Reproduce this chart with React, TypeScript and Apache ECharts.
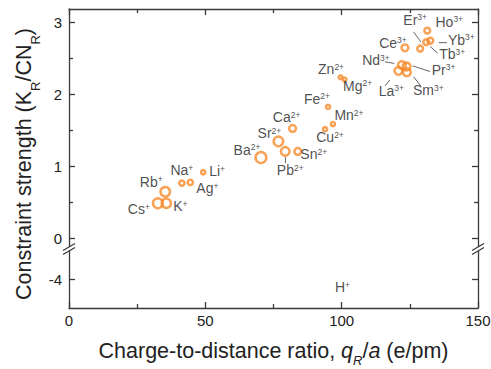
import React, { useEffect, useRef } from 'react';
import * as echarts from 'echarts';

const FONT = '"Liberation Sans", Arial, Helvetica, sans-serif';
const ORANGE = '#f7892b';
const INK = '#222222';
const AXIS = '#3a3a3a';

// Ions, their charge, the charge-to-distance ratio q_R/a (e/pm) and constraint strength
const ions = ['Cs', 'Rb', 'K', 'Na', 'Ag', 'Li', 'Ba', 'Sr', 'Pb', 'Ca', 'Sn', 'Cu', 'Mn', 'Fe', 'Zn', 'Mg', 'La', 'Nd', 'Pr', 'Sm', 'Ce', 'Er', 'Tb', 'Yb', 'Ho'];
const charges = ['+', '+', '+', '+', '+', '+', '2+', '2+', '2+', '2+', '2+', '2+', '2+', '2+', '2+', '2+', '3+', '3+', '3+', '3+', '3+', '3+', '3+', '3+', '3+'];
const chargeRatio = [32.6, 35.3, 35.7, 41.4, 44.5, 49.2, 70.4, 76.8, 79.3, 82.0, 83.9, 93.9, 96.8, 95.0, 99.6, 101.1, 120.8, 122.1, 123.8, 123.9, 123.2, 128.8, 131.0, 132.5, 131.4];
const strength = [0.49, 0.65, 0.49, 0.77, 0.78, 0.92, 1.125, 1.35, 1.21, 1.53, 1.21, 1.52, 1.59, 1.83, 2.24, 2.21, 2.33, 2.41, 2.39, 2.31, 2.65, 2.64, 2.73, 2.75, 2.89];
const markerSize = [9.8, 9.5, 9.3, 5.3, 5.3, 4.3, 10.8, 9.5, 8.6, 6.8, 6.8, 4.2, 4.2, 4.2, 3.8, 3.8, 7.8, 7.8, 7.8, 7.8, 6.8, 5.8, 5.8, 5.8, 5.8];

// H+ (drawn on the lower, broken part of the axis)
const hydrogenIon = ['H'];
const hydrogenCharge = ['+'];
const hydrogenRatio = [100.3];
const hydrogenStrength = [-4.14];

// label placement (offset from the marker, px) and leader lines (start/end offsets from the marker, px)
const labelDx = [-19, -14, 14, 0, 17, 14, -14, -9, 5, -6, 16, 5, 16, -11, -9.5, 13, -7, -26, 37, 21.5, -12, -5, 26, 31, 22];
const labelDy = [6, -10, 3, -13, 6, -1, -8, -8, 19, -11, 3, 8, -9, -8, -8, 6, 20, -5, 3, 18, -5, -29, 12, -1, -9];
const leaderLine: (number[] | null)[] = [
  null, null, null, null, null, null, null, null,
  [0.2, 5.7, 0.2, 11.7], // Pb
  null, null, null, null, null, null, null,
  [-8.4, 9, -13.4, 15], // La
  [-7.7, -1.7, -17, -3.3], // Nd
  [6, -0.7, 23.6, 5], // Pr
  [6.7, 4.4, 14, 13.7], // Sm
  null,
  [0.7, -6.6, -6.6, -16.6], // Er
  [4, 4.4, 11.4, 11], // Tb
  [8.4, 2, 16.7, 2], // Yb
  null,
];

// axis ticks
const xTickLabels = [0, 50, 100, 150];
const xMinorTicks = [25, 75, 125];
const yUpperTickLabels = [0, 1, 2, 3];
const yUpperMinorTicks = [0.5, 1.5, 2.5];
const yLowerTickLabels = [-4];

const ionRich = {
  n: { fontSize: 14, fontFamily: FONT, color: INK, lineHeight: 14 },
  s: { fontSize: 8.5, fontFamily: FONT, color: INK, lineHeight: 9, verticalAlign: 'top' },
};

export default function App() {
  const ref = useRef<HTMLDivElement>(null);

  useEffect(() => {
    document.body.style.margin = '0';
    if (!ref.current) return;
    const chart = echarts.init(ref.current, null, { renderer: 'svg' });

    const axisLineStyle = { color: AXIS, width: 1.3 };
    const hiddenLabel = { show: false };
    const titleSize = 21.5;

    const xAxis: any[] = [
      {
        gridIndex: 1, type: 'value', position: 'bottom', min: 0, max: 150, interval: 25,
        axisLine: { show: true, onZero: false, lineStyle: axisLineStyle },
        axisTick: { show: true, inside: true, length: 6, customValues: xTickLabels, lineStyle: axisLineStyle },
        axisLabel: { show: true, customValues: xTickLabels, fontSize: 15, fontFamily: FONT, color: INK, margin: 5 },
        splitLine: { show: false },
        name: '{a|Charge-to-distance ratio, }{i|q}{si|R}{a|/}{i|a}{a| (e/pm)}',
        nameLocation: 'middle',
        nameGap: 32,
        nameTextStyle: {
          rich: {
            a: { fontSize: titleSize, fontFamily: FONT, color: INK, verticalAlign: 'top' },
            i: { fontSize: titleSize, fontFamily: FONT, color: INK, fontStyle: 'italic', verticalAlign: 'top' },
            si: { fontSize: 13, fontFamily: FONT, color: INK, fontStyle: 'italic', lineHeight: 27, verticalAlign: 'bottom' },
          },
        },
      },
      {
        gridIndex: 1, type: 'value', position: 'bottom', min: 0, max: 150, interval: 25,
        axisLine: { show: false, onZero: false },
        axisTick: { show: true, inside: true, length: 4, customValues: xMinorTicks, lineStyle: axisLineStyle },
        axisLabel: hiddenLabel, splitLine: { show: false },
      },
      {
        gridIndex: 0, type: 'value', position: 'top', min: 0, max: 150, interval: 25,
        axisLine: { show: true, onZero: false, lineStyle: axisLineStyle },
        axisTick: { show: true, inside: true, length: 6, customValues: xTickLabels, lineStyle: axisLineStyle },
        axisLabel: hiddenLabel, splitLine: { show: false },
      },
      {
        gridIndex: 0, type: 'value', position: 'top', min: 0, max: 150, interval: 25,
        axisLine: { show: false, onZero: false },
        axisTick: { show: true, inside: true, length: 4, customValues: xMinorTicks, lineStyle: axisLineStyle },
        axisLabel: hiddenLabel, splitLine: { show: false },
      },
    ];

    const upperY = (position: string, major: boolean, labels: boolean) => ({
      gridIndex: 0, type: 'value', position, min: -0.16, max: 3.19,
      axisLine: { show: major, onZero: false, lineStyle: axisLineStyle },
      axisTick: { show: true, inside: true, length: major ? 6 : 4, customValues: major ? yUpperTickLabels : yUpperMinorTicks, lineStyle: axisLineStyle },
      axisLabel: labels
        ? { show: true, customValues: yUpperTickLabels, fontSize: 15, fontFamily: FONT, color: INK, margin: 7 }
        : hiddenLabel,
      splitLine: { show: false },
    });
    const lowerY = (position: string, labels: boolean) => ({
      gridIndex: 1, type: 'value', position, min: -4.5, max: -3.5,
      axisLine: { show: true, onZero: false, lineStyle: axisLineStyle },
      axisTick: { show: true, inside: true, length: 6, customValues: yLowerTickLabels, lineStyle: axisLineStyle },
      axisLabel: labels
        ? { show: true, customValues: yLowerTickLabels, fontSize: 15, fontFamily: FONT, color: INK, margin: 7 }
        : hiddenLabel,
      splitLine: { show: false },
    });

    const yAxis: any[] = [
      upperY('left', true, true),
      upperY('left', false, false),
      upperY('right', true, false),
      upperY('right', false, false),
      lowerY('left', true),
      lowerY('right', false),
    ];

    const ionData = ions.map((ion, i) => ({
      name: ion,
      value: [chargeRatio[i], strength[i]],
      symbolSize: markerSize[i],
    }));
    const leaderData = ions
      .map((ion, i) => ({ name: ion, value: [chargeRatio[i], strength[i], i] }))
      .filter((d) => leaderLine[d.value[2]] !== null);
    const hData = hydrogenIon.map((ion, i) => ({
      name: ion,
      value: [hydrogenRatio[i], hydrogenStrength[i]],
    }));

    const breakMark = (x: number) => [
      { type: 'rect', z: 100, shape: { x: x - 3, y: 247, width: 6, height: 4 }, style: { fill: '#ffffff' } },
      { type: 'line', z: 101, shape: { x1: x - 6, y1: 250.5, x2: x + 6, y2: 243.5 }, style: { stroke: AXIS, lineWidth: 1.3 } },
      { type: 'line', z: 101, shape: { x1: x - 6, y1: 254.5, x2: x + 6, y2: 247.5 }, style: { stroke: AXIS, lineWidth: 1.3 } },
    ];

    chart.setOption({
      animation: false,
      backgroundColor: '#ffffff',
      grid: [
        { left: 69, right: 13, top: 9, height: 241, outerBoundsMode: 'none' },
        { left: 69, right: 13, top: 250, height: 58, outerBoundsMode: 'none' },
      ],
      xAxis,
      yAxis,
      graphic: [
        ...breakMark(69),
        ...breakMark(478),
        {
          type: 'text', z: 100, x: 27, y: 164, rotation: Math.PI / 2,
          style: {
            text: '{a|Constraint strength (K}{s|R}{a|/CN}{s|R}{a|)}',
            align: 'center', verticalAlign: 'middle',
            rich: {
              a: { fontSize: titleSize, fontFamily: FONT, fill: INK, verticalAlign: 'top' },
              s: { fontSize: 13, fontFamily: FONT, fill: INK, lineHeight: 29, verticalAlign: 'bottom' },
            },
          },
        },
      ],
      series: [
        {
          type: 'custom',
          xAxisIndex: 2,
          yAxisIndex: 0,
          silent: true,
          z: 1,
          renderItem: (params: any, api: any) => {
            const p = api.coord([api.value(0), api.value(1)]);
            const seg = leaderLine[api.value(2)] as number[];
            return {
              type: 'line',
              shape: { x1: p[0] + seg[0], y1: p[1] + seg[1], x2: p[0] + seg[2], y2: p[1] + seg[3] },
              style: { stroke: '#555555', lineWidth: 0.9 },
            };
          },
          data: leaderData,
        },
        {
          type: 'scatter',
          xAxisIndex: 2,
          yAxisIndex: 0,
          symbol: 'circle',
          z: 2,
          itemStyle: { color: 'rgba(255,255,255,0)', borderColor: ORANGE, borderWidth: 2.5 },
          emphasis: { disabled: true },
          label: {
            show: true,
            position: 'inside',
            formatter: (p: any) => `{n|${ions[p.dataIndex]}}{s|${charges[p.dataIndex]}}`,
            rich: ionRich,
          },
          labelLayout: (p: any) => ({ dx: labelDx[p.dataIndex], dy: labelDy[p.dataIndex] }),
          data: ionData,
        },
        {
          type: 'scatter',
          xAxisIndex: 0,
          yAxisIndex: 4,
          symbol: 'circle',
          symbolSize: 1,
          itemStyle: { color: 'rgba(255,255,255,0)' },
          emphasis: { disabled: true },
          label: {
            show: true,
            position: 'inside',
            formatter: (p: any) => `{n|${hydrogenIon[p.dataIndex]}}{s|${hydrogenCharge[p.dataIndex]}}`,
            rich: ionRich,
          },
          data: hData,
        },
      ],
    });

    return () => chart.dispose();
  }, []);

  return <div ref={ref} style={{ width: 491, height: 369 }} />;
}
